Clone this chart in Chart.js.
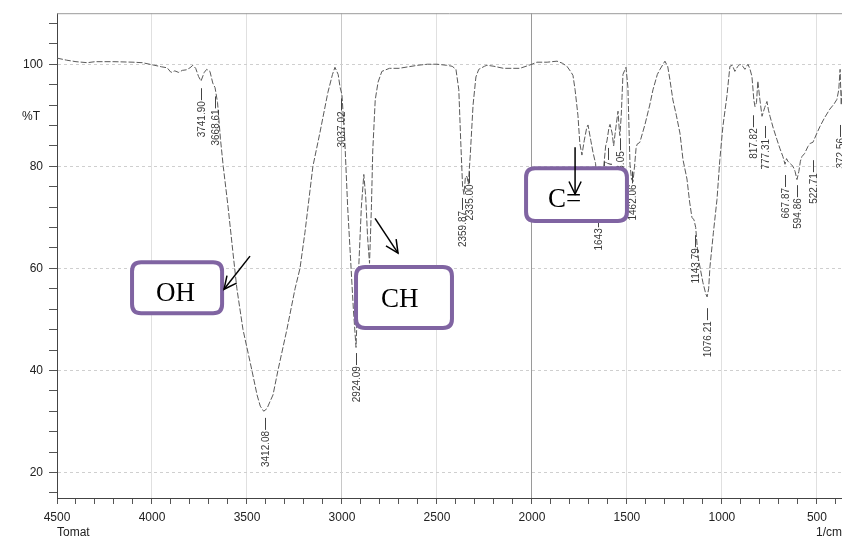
<!DOCTYPE html>
<html>
<head>
<meta charset="utf-8">
<script src="https://cdn.jsdelivr.net/npm/chart.js@4.4.1/dist/chart.umd.min.js"></script>
<style>
html,body{margin:0;padding:0;background:#fff;}
canvas{display:block;}
</style>
</head>
<body>
<canvas id="c" width="842" height="540"></canvas>
<script>
// ---- data (wavenumber in 1/cm, transmittance in %T) ----
const wavenumbers = [
  4500,4450,4400,4340,4300,4200,4100,4050,4000,3950,3920,3900,3880,3860,3840,3820,3800,3785,3770,3755,3742,3725,3712,3695,3680,3668,3655,3640,3625,3600,
  3575,3553,3521,3474,3447,3430,3412,3395,3380,3363,3337,3290,3247,3221,3195,3153,3116,3074,3050,3037,3020,3010,3000,
  2985,2970,2955,2940,2926,2912,2898,2885,2875,2865,2855,2845,2838,2825,2810,2790,2750,2700,2650,2600,2550,2500,2450,2420,2400,2385,2375,2365,2358,2350,2342,2335,2325,2310,2295,2280,2250,2237,2200,2150,2100,2063,2000,
  1974,1920,1868,1840,1816,1795,1784,1773,1758,1748,1737,1725,1712,1705,1690,1679,1665,1653,1645,1635,1622,1612,1605,1595,1589,1578,1570,1563,1555,1547,1540,1537,1530,1526,1521,1505,1495,1484,1476,1468,1460,1452,1447,1432,1405,1380,1363,1340,1326,1300,
  1285,1274,1258,1240,1221,1205,1184,1170,1158,1147,1138,1126,1100,1085,1078,1070,1063,1045,1026,1011,995,974,958,945,932,918,905,890,879,870,863,852,842,832,826,818,811,800,789,775,763,755,747,730,711,695,679,668,660,653,640,626,615,605,595,587,579,565,547,535,521,500,484,460,432,410,395,385,378,372,368
];
const transmittance = [
  101.2,100.8,100.5,100.3,100.5,100.5,100.4,100.3,99.9,99.5,99.3,98.4,98.7,98.4,98.8,98.9,99.3,99.8,99.2,97.6,96.7,98.4,99.0,98.6,96.3,95.4,92.5,85.5,80.0,72.2,
  63.5,56.0,48.0,40.0,35.2,33.0,32.0,32.5,33.8,35.2,40.0,48.0,56.0,60.0,67.0,80.0,86.6,94.5,98.0,99.4,98.0,95.5,94.0,
  85.0,72.0,62.0,52.0,44.5,60.0,72.0,78.4,74.0,66.0,61.0,72.0,83.0,93.0,96.5,98.6,99.2,99.2,99.5,99.8,100.0,100.0,99.8,99.6,99.0,95.0,85.0,76.0,74.5,78.0,78.0,76.5,82.0,92.0,97.5,99.0,99.6,99.8,99.6,99.2,99.2,99.2,100.0,
  100.4,100.4,100.6,100.2,99.6,98.5,97.8,95.0,90.0,84.5,82.2,85.0,87.5,88.1,85.0,82.8,80.5,74.0,71.0,74.5,80.0,84.0,85.0,87.5,88.2,86.5,84.0,86.2,88.5,90.8,87.0,86.0,90.0,93.5,98.0,99.4,95.5,80.4,77.5,77.0,80.0,83.5,84.3,84.7,88.2,92.0,95.0,98.0,99.0,100.6,
  99.5,97.0,93.0,90.0,86.5,81.3,77.5,73.0,70.0,69.5,68.0,62.3,57.2,55.0,54.4,56.0,60.3,67.0,73.5,81.3,87.8,93.7,99.6,99.8,98.6,99.5,100.0,99.6,99.0,99.6,100.0,99.0,97.6,93.0,91.7,92.5,96.7,93.0,89.8,91.5,92.7,91.0,89.8,87.5,85.3,83.5,81.9,80.4,81.5,81.0,80.5,80.0,79.0,77.4,79.0,81.0,81.9,82.5,83.9,84.5,84.7,86.5,87.8,89.5,91.2,92.2,93.1,95.0,99.0,92.0,95.0
];

// peak annotations
const peakText = ['3741.90','3668.61','3412.08','3037.02','2924.09','2359.87','2335.00','1643','1597.77','1533.05','1462.06','1143.79','1076.21','817.82','777.31','667.87','594.86','522.71','372.56'];
const peakPos  = [3742,3668,3405,3005,2926,2368,2332,1653,1600,1537,1474,1142,1079,837,774,668,605,521,380];
const peakTop  = [95.3,93.7,30.7,93.3,43.4,73.8,79.0,70.4,83.6,85.5,79.0,66.5,52.2,90.0,87.9,78.3,76.3,81.2,88.1];

// axis ticks
const xTickValues = [];
for (let v = 400; v <= 4500; v += 100) xTickValues.push(v);
const yTickValues = [];
for (let v = 16; v <= 108; v += 4) yTickValues.push(v);

// group annotations (band labels)
const bandText  = ['OH','CH','C='];
const bandBox   = [[4105,61.2,3631,51.2],[2926,60.25,2421,48.3],[2031,79.64,1500,69.26]];
const bandTextAt= [[3979,53.6,53.4],[2795,52.4,40],[1916,72.0,71.9]];
const bandArrow = [[3484,62.4,3621,55.9],[2826,69.8,2705,63.0],[1773,83.75,1773,74.55]];

const data = wavenumbers.map((w,i)=>({x:w,y:transmittance[i]}));

function roundRectPath(ctx,x,y,w,h,r){
  ctx.beginPath();
  ctx.moveTo(x+r,y);
  ctx.lineTo(x+w-r,y); ctx.quadraticCurveTo(x+w,y,x+w,y+r);
  ctx.lineTo(x+w,y+h-r); ctx.quadraticCurveTo(x+w,y+h,x+w-r,y+h);
  ctx.lineTo(x+r,y+h); ctx.quadraticCurveTo(x,y+h,x,y+h-r);
  ctx.lineTo(x,y+r); ctx.quadraticCurveTo(x,y,x+r,y);
  ctx.closePath();
}
function arrow(ctx,x1,y1,x2,y2){
  ctx.beginPath(); ctx.moveTo(x1,y1); ctx.lineTo(x2,y2); ctx.stroke();
  const a = Math.atan2(y2-y1,x2-x1), L = 14, s = 0.45;
  ctx.beginPath();
  ctx.moveTo(x2 - L*Math.cos(a-s), y2 - L*Math.sin(a-s));
  ctx.lineTo(x2,y2);
  ctx.lineTo(x2 - L*Math.cos(a+s), y2 - L*Math.sin(a+s));
  ctx.stroke();
}

const overlay = {
  id:'overlay',
  afterDatasetsDraw(chart){
    const {ctx, chartArea, scales:{x,y}} = chart;
    const X = v=>x.getPixelForValue(v), Y = v=>y.getPixelForValue(v);
    ctx.save();
    // top frame line
    ctx.strokeStyle='#9a9a9a'; ctx.lineWidth=1;
    ctx.beginPath(); ctx.moveTo(chartArea.left, chartArea.top+0.5); ctx.lineTo(chartArea.right, chartArea.top+0.5); ctx.stroke();
    // peak labels
    ctx.font='10px "Liberation Sans", Arial, sans-serif';
    ctx.fillStyle='#3a3a3a'; ctx.strokeStyle='#444'; ctx.lineWidth=1;
    peakPos.forEach((p,i)=>{
      const px = Math.round(X(p))+0.5, py = Y(peakTop[i]);
      ctx.beginPath(); ctx.moveTo(px,py); ctx.lineTo(px,py+12); ctx.stroke();
      ctx.save(); ctx.translate(px+0.5, py+13); ctx.rotate(-Math.PI/2);
      ctx.textAlign='right'; ctx.textBaseline='middle';
      ctx.fillText(peakText[i],0,0); ctx.restore();
    });
    // band boxes
    bandText.forEach((t,i)=>{
      const b = bandBox[i];
      const x1=X(b[0]), y1=Y(b[1]), x2=X(b[2]), y2=Y(b[3]);
      roundRectPath(ctx,x1,y1,x2-x1,y2-y1,9);
      ctx.fillStyle='#fff'; ctx.fill();
      ctx.lineWidth=4; ctx.strokeStyle='#8064a2'; ctx.stroke();
      const ta = bandTextAt[i];
      ctx.save();
      ctx.beginPath(); ctx.rect(x1, y1, x2-x1, Y(ta[2])-y1); ctx.clip();
      ctx.font='27px "Liberation Serif", "Times New Roman", serif';
      ctx.fillStyle='#000'; ctx.textAlign='left'; ctx.textBaseline='alphabetic';
      ctx.fillText(t, X(ta[0]), Y(ta[1]));
      ctx.restore();
    });
    // arrows
    ctx.strokeStyle='#000'; ctx.lineWidth=1.5;
    bandArrow.forEach(a=>arrow(ctx,X(a[0]),Y(a[1]),X(a[2]),Y(a[3])));
    ctx.restore();
  },
  afterDraw(chart){
    const ctx = chart.ctx;
    ctx.save();
    ctx.fillStyle='#222';
    ctx.font='12px "Liberation Sans", Arial, sans-serif';
    ctx.textBaseline='middle';
    ctx.textAlign='left';
    ctx.fillText('%T', 22, 117);
    ctx.fillText('Tomat', 57, 533);
    ctx.textAlign='right';
    ctx.fillText('1/cm', 842, 533);
    ctx.restore();
  }
};

new Chart(document.getElementById('c'), {
  type:'line',
  data:{datasets:[{
    data: data,
    borderColor:'#5a5a5a',
    borderWidth:1,
    borderDash:[6,2],
    pointRadius:0,
    tension:0,
    fill:false
  }]},
  options:{
    responsive:false,
    animation:false,
    layout:{padding:{top:13,right:0,left:0,bottom:0}},
    plugins:{legend:{display:false},tooltip:{enabled:false},title:{display:false}},
    scales:{
      x:{
        type:'linear', reverse:true, min:368, max:4500,
        afterBuildTicks:s=>{ s.ticks = xTickValues.map(v=>({value:v})); },
        afterFit:s=>{ s.height = 42; },
        ticks:{
          autoSkip:false, maxRotation:0, minRotation:0, padding:6,
          color:'#222', font:{family:'"Liberation Sans", Arial, sans-serif', size:12},
          callback:v=> (v%500===0 ? String(v) : '')
        },
        grid:{
          drawOnChartArea:true, tickLength:6, tickColor:'#555',
          color:c=>{ const v=c.tick&&c.tick.value; if(v%500!==0||v===4500) return 'rgba(0,0,0,0)'; if(v===2000) return '#9a9a9a'; if(v===3000) return '#c8c8c8'; return '#e0e0e0'; },
          lineWidth:1
        },
        border:{display:true, color:'#444', width:1}
      },
      y:{
        type:'linear', min:15, max:110,
        afterBuildTicks:s=>{ s.ticks = yTickValues.map(v=>({value:v})); },
        afterFit:s=>{ s.width = 57; },
        ticks:{
          autoSkip:false, padding:6,
          color:'#222', font:{family:'"Liberation Sans", Arial, sans-serif', size:12},
          callback:v=> (v%20===0 ? String(v) : '')
        },
        grid:{
          drawOnChartArea:true, tickLength:8, tickColor:'#555',
          color:c=>{ const v=c.tick&&c.tick.value; return (v%20===0) ? '#cfcfcf' : 'rgba(0,0,0,0)'; },
          lineWidth:1
        },
        border:{display:true, color:'#444', width:1, dash:[3,3]}
      }
    }
  },
  plugins:[overlay]
});
</script>
</body>
</html>
